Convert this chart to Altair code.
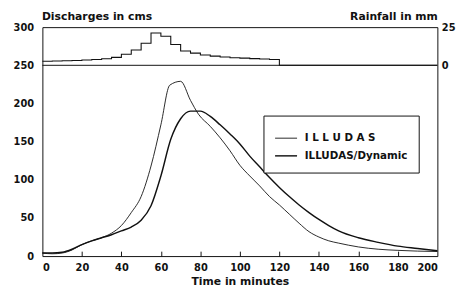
import altair as alt
import pandas as pd

# ---- data ----
series_names = ["ILLUDAS", "ILLUDAS/Dynamic"]

time_illudas = [0, 5, 10, 15, 20, 25, 30, 35, 40, 45, 50, 55, 60, 64.5, 70, 75, 79, 85, 90,
                95, 100, 105, 110, 115, 120, 125, 130, 135, 140, 145, 150, 160, 170, 180, 190, 200]
q_illudas = [4, 3, 4, 8, 15, 20, 24, 30, 40, 57, 78, 118, 172, 224, 229, 204, 186, 170, 155,
             138, 119, 105, 92, 78, 67, 55, 43, 32, 25, 20, 17, 12, 9, 7.5, 6.5, 6]

time_dynamic = [0, 5, 10, 15, 20, 25, 30, 35, 40, 45, 50, 55, 60, 65, 70, 75, 80, 85, 90,
                95, 100, 105, 110, 115, 120, 125, 130, 135, 140, 145, 150, 160, 170, 180, 190, 200]
q_dynamic = [4, 4, 5, 9, 15, 20, 24, 28, 33, 38, 47, 66, 105, 153, 180, 190, 190, 183, 172,
             160, 147, 131, 117, 103, 90, 78, 67, 57, 48, 40, 33, 24, 18, 13, 10, 7]

rain_time = [0, 5, 10, 15, 20, 25, 30, 35, 40, 45, 50, 55, 60, 65, 70, 75, 80, 85, 90, 95,
             100, 105, 110, 115, 120, 200]
rain_mm = [2.6, 2.8, 3.0, 3.2, 3.5, 3.8, 4.3, 5.2, 7.2, 10.0, 14.5, 21.2, 19.0, 13.6, 9.4,
           8.0, 6.7, 6.0, 5.4, 5.0, 4.7, 4.4, 4.1, 3.8, 0, 0]

x_tick_values = list(range(0, 201, 20))
q_tick_values = list(range(0, 301, 50))
rain_tick_values = [0, 25]
box_line = [250]

# ---- tables ----
hydro = pd.concat([
    pd.DataFrame({"t": time_illudas, "q": q_illudas, "series": series_names[0]}),
    pd.DataFrame({"t": time_dynamic, "q": q_dynamic, "series": series_names[1]}),
])
rain = pd.DataFrame({"t": rain_time, "mm": rain_mm})
box_df = pd.DataFrame({"q": box_line})

FONT = "DejaVu Sans"
INK = "#111111"
PLOT_W, PLOT_H = 402, 233

x_axis = alt.Axis(values=x_tick_values, title="Time in minutes", labelPadding=7,
                  titlePadding=3, ticks=False, domain=False, grid=False)
x_scale = alt.Scale(domain=[0, 200], nice=False, zero=False)

# second copy of the time axis, used only to draw the small inward ticks on the bottom edge
x_inner_tick_axis = alt.Axis(orient="top", offset=-PLOT_H, values=x_tick_values[1:-1],
                             ticks=True, tickSize=5, tickWidth=1, tickColor=INK,
                             labels=False, domain=False, grid=False, title=None)

y_axis = alt.Axis(values=q_tick_values, title="Discharges in cms", titleAngle=0,
                  titleAlign="left", titleBaseline="alphabetic", titleX=-1, titleY=-8,
                  labelPadding=9, ticks=False, domain=False, grid=False)
y_scale = alt.Scale(domain=[0, 300], nice=False)

lines = alt.Chart(hydro).mark_line(color=INK, interpolate="monotone").encode(
    x=alt.X("t:Q", scale=x_scale, axis=x_axis),
    y=alt.Y("q:Q", scale=y_scale, axis=y_axis),
    strokeWidth=alt.StrokeWidth(
        "series:N",
        scale=alt.Scale(domain=series_names, range=[0.9, 1.45]),
        legend=alt.Legend(
            title=None, orient="none", legendX=225, legendY=90,
            strokeColor=INK, fillColor="white", padding=11,
            symbolType="stroke", symbolSize=500, symbolStrokeColor=INK,
            labelFont=FONT, labelFontSize=10.5, labelFontWeight="bold",
            labelColor=INK, labelOffset=7, rowPadding=0,
            labelExpr="datum.label == 'ILLUDAS' ? 'I L L U D A S' : datum.label + '\u00a0\u00a0\u00a0'",
        ),
    ),
)

box_rule = alt.Chart(box_df).mark_rule(color=INK, strokeWidth=1).encode(
    y=alt.Y("q:Q", scale=y_scale, axis=y_axis),
)

rain_line = alt.Chart(rain).mark_line(color=INK, strokeWidth=1.1, interpolate="step-after").encode(
    x=alt.X("t:Q", scale=x_scale, axis=x_inner_tick_axis),
    y=alt.Y("mm:Q", scale=alt.Scale(domain=[-125, 25], nice=False),
            axis=alt.Axis(orient="right", values=rain_tick_values, title="Rainfall in mm",
                          titleAngle=0, titleAlign="right", titleBaseline="alphabetic",
                          titleX=0, titleY=-8, labelPadding=4, ticks=False,
                          domain=False, grid=False)),
)

chart = alt.layer(
    alt.layer(box_rule, lines), rain_line
).resolve_scale(y="independent", x="independent").properties(
    width=PLOT_W, height=PLOT_H,
    autosize=alt.AutoSizeParams(type="none"),
    padding={"left": 35, "top": 17, "right": 22, "bottom": 30},
    background="white",
).configure_view(
    stroke=INK, strokeWidth=1
).configure_axis(
    labelFont=FONT, labelFontSize=10, labelFontWeight="bold", labelColor=INK,
    titleFont=FONT, titleFontSize=11, titleFontWeight="bold", titleColor=INK,
)

chart.save("out.html", embed_options={"renderer": "svg", "actions": False})
